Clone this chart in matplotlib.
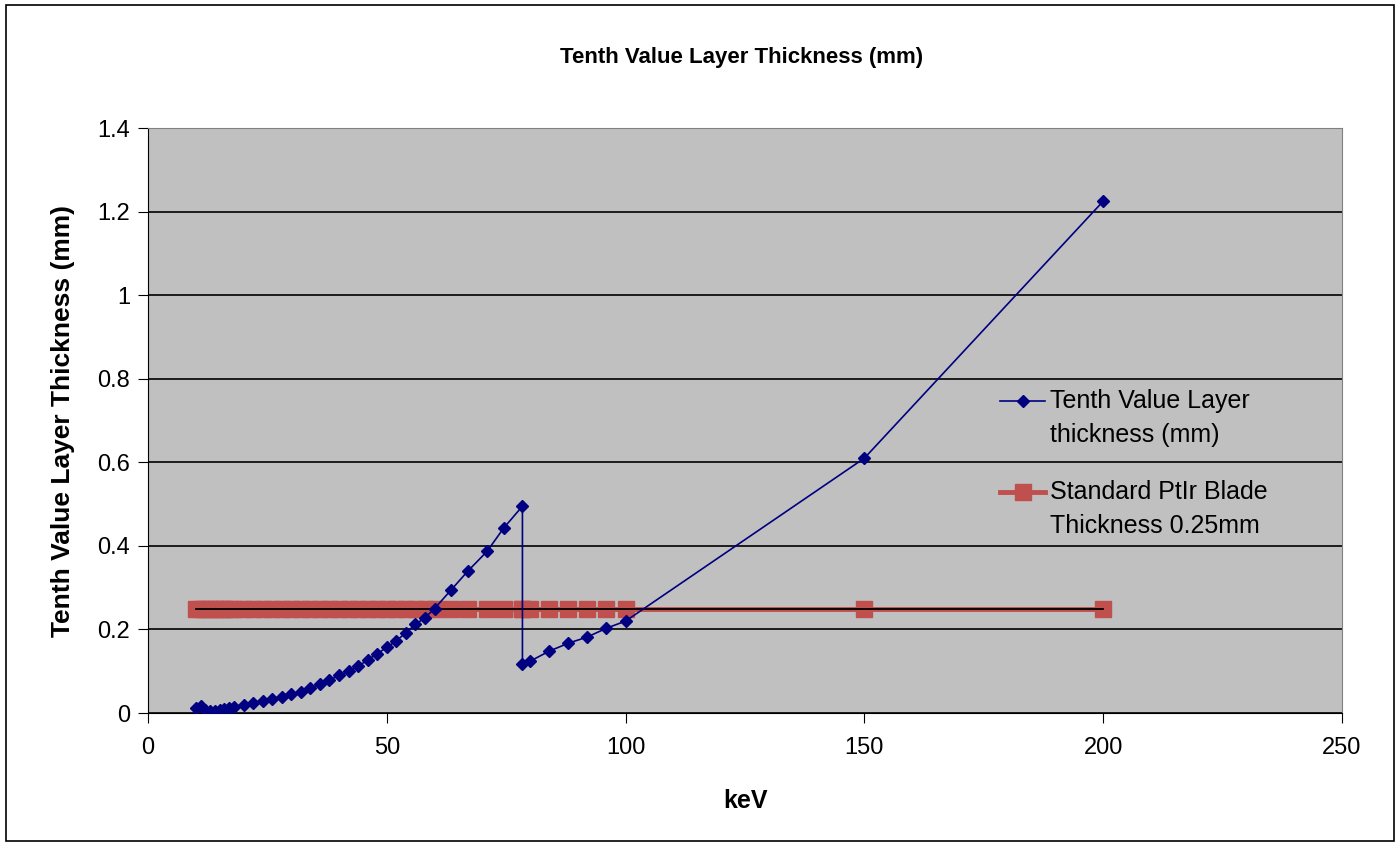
import matplotlib
matplotlib.use("Agg")
import matplotlib.pyplot as plt
from matplotlib.ticker import MultipleLocator

energy_kev = [10, 11, 12, 13, 14, 15, 16, 17, 18, 20, 22, 24, 26, 28, 30, 32, 34, 36,
              38, 40, 42, 44, 46, 48, 50, 52, 54, 56, 58, 60, 63.5, 67, 71, 74.5, 78.4,
              78.4, 80, 84, 88, 92, 96, 100, 150, 200]
tvl_mm = [0.011, 0.017, 0.007, 0.006, 0.006, 0.007, 0.009, 0.011, 0.014, 0.019, 0.024,
          0.029, 0.034, 0.039, 0.045, 0.051, 0.059, 0.069, 0.079, 0.090, 0.100, 0.112,
          0.127, 0.142, 0.157, 0.173, 0.192, 0.212, 0.228, 0.250, 0.295, 0.340, 0.387,
          0.443, 0.495, 0.117, 0.124, 0.148, 0.167, 0.182, 0.203, 0.220, 0.610, 1.225]
blade_mm = [0.25] * len(energy_kev)

title = "Tenth Value Layer Thickness (mm)"
ylabel = "Tenth Value Layer Thickness (mm)"
xlabel = "keV"
label_tvl = ["Tenth Value Layer", "thickness (mm)"]
label_blade = ["Standard PtIr Blade", "Thickness 0.25mm"]
yticks = [0, 0.2, 0.4, 0.6, 0.8, 1, 1.2, 1.4]
ytick_labels = ['0', '0.2', '0.4', '0.6', '0.8', '1', '1.2', '1.4']

plt.rcParams['font.family'] = ['Liberation Sans', 'DejaVu Sans']

BLUE = '#000080'
RED = '#C0504D'

fig = plt.figure(figsize=(14, 8.44), dpi=100)
fig.patch.set_facecolor('white')
ax = fig.add_axes([0.1057, 0.1552, 0.8529, 0.6931])
ax.set_facecolor('#C0C0C0')

ax.plot(energy_kev, blade_mm, color=RED, lw=3.5, marker='s', ms=11,
        mec=RED, mfc=RED, zorder=2)
ax.plot(energy_kev, blade_mm, color='black', lw=1.3, zorder=3)
ax.plot(energy_kev, tvl_mm, color=BLUE, lw=1.2, marker='D', ms=6.5,
        mec=BLUE, mfc=BLUE, zorder=4)

ax.set_xlim(0, 250)
ax.set_ylim(0, 1.4)
ax.xaxis.set_major_locator(MultipleLocator(50))
ax.set_yticks(yticks)
ax.set_yticklabels(ytick_labels)
ax.grid(axis='y', color='black', lw=1.2, zorder=1)
ax.set_axisbelow(True)
for s in ['top', 'right']:
    ax.spines[s].set_color('#808080')
for s in ['left', 'bottom']:
    ax.spines[s].set_color('black')
ax.tick_params(axis='y', labelsize=17, direction='out', length=7, color='black', pad=6)
ax.tick_params(axis='x', labelsize=17, direction='out', length=7, color='black', pad=10)

ax.set_xlabel(xlabel, fontsize=18, fontweight='bold', labelpad=22)
ax.set_ylabel(ylabel, fontsize=19, fontweight='bold', labelpad=16)
fig.text(0.53, 0.932, title, ha='center', va='center', fontsize=16, fontweight='bold')

# manual legend (handle aligned with first text line, as in the reference)
lx0, lx1, tx = 0.7136, 0.7513, 0.7554
entries = [(label_tvl, BLUE, 'D', 6.5, 1.2, 0.5333), (label_blade, RED, 's', 11, 3.5, 0.3778)]
line_gap = 0.0581
for labels, col, mk, ms, lw, y0 in entries:
    ax.plot([lx0, lx1], [y0, y0], color=col, lw=lw, transform=ax.transAxes, clip_on=False, zorder=5)
    ax.plot([(lx0 + lx1) / 2], [y0], color=col, marker=mk, ms=ms, transform=ax.transAxes,
            clip_on=False, zorder=6)
    for i, t in enumerate(labels):
        ax.text(tx, y0 - i * line_gap, t, transform=ax.transAxes, fontsize=18,
                ha='left', va='center', color='black')

fig.add_artist(plt.Rectangle((0.004, 0.004), 0.992, 0.99, transform=fig.transFigure,
                             fill=False, edgecolor='black', lw=1.2))

fig.savefig('out.png', dpi=100)
